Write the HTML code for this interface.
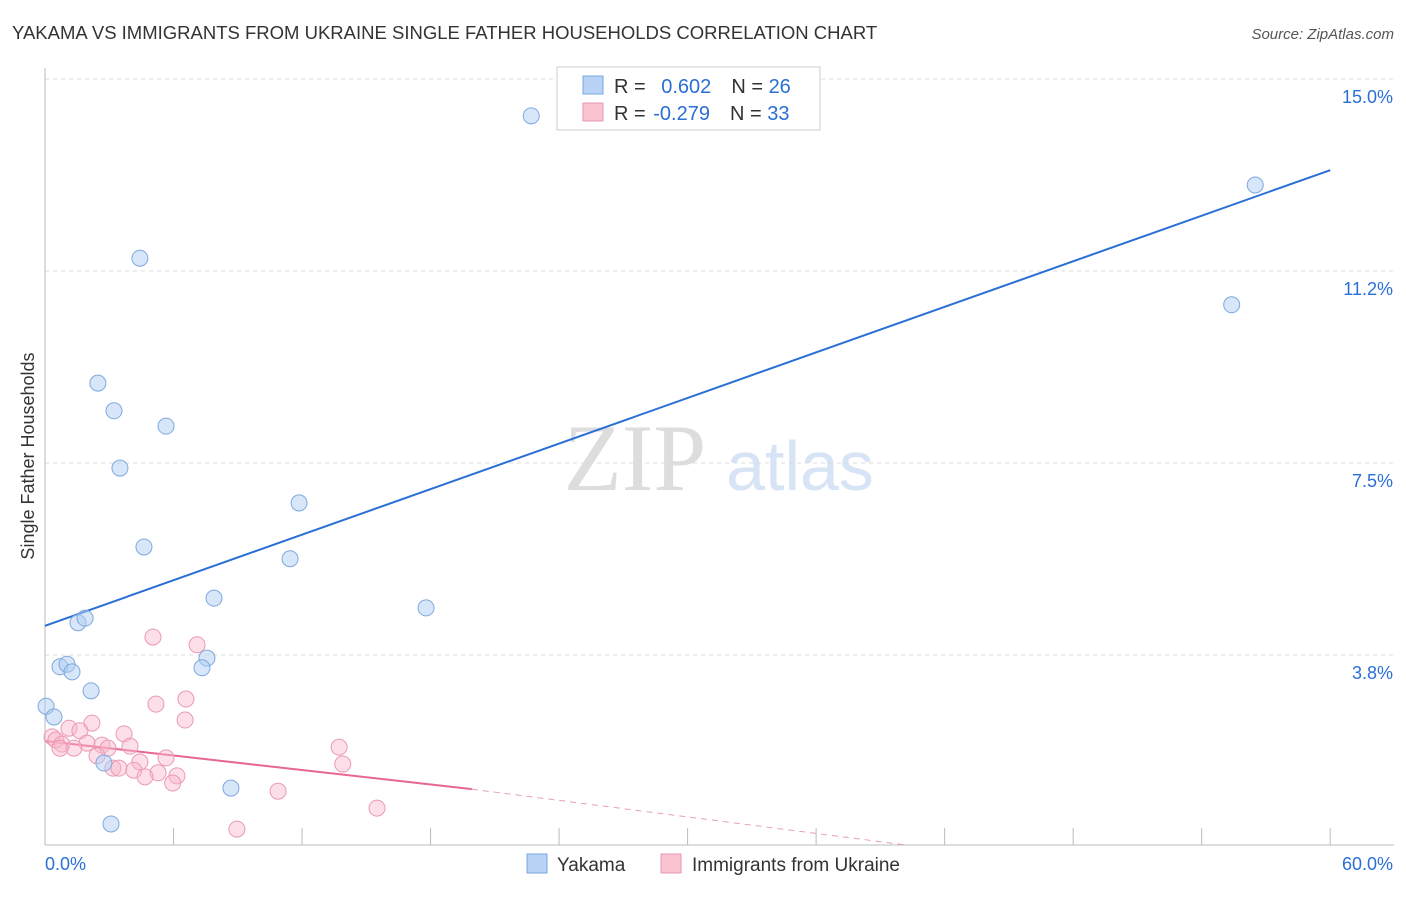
<!DOCTYPE html>
<html><head><meta charset="utf-8"><style>
body{margin:0;background:#fff;font-family:"Liberation Sans",sans-serif}
svg text{font-family:"Liberation Sans",sans-serif}
</style></head><body>
<svg width="1406" height="892" xmlns="http://www.w3.org/2000/svg">
<text x="12" y="39" font-size="18.5" fill="#333">YAKAMA VS IMMIGRANTS FROM UKRAINE SINGLE FATHER HOUSEHOLDS CORRELATION CHART</text>
<text x="1394" y="39" font-size="15" fill="#555" font-style="italic" text-anchor="end">Source: ZipAtlas.com</text>
<text x="0" y="0" transform="translate(34,456) rotate(-90)" font-size="18" fill="#333" text-anchor="middle">Single Father Households</text>
<text x="635" y="490" font-size="95" fill="#ddd" style="font-family:'Liberation Serif',serif" text-anchor="middle">ZIP</text>
<text x="800" y="490" font-size="70" fill="#d6e4f5" text-anchor="middle">atlas</text>
<g id="grid"></g><g id="axes"></g><g id="lines"></g><g id="pts"></g>
<g>
<rect x="557" y="67" width="263" height="63" fill="#fff" stroke="#ccc"/>
<rect x="583" y="76" width="20" height="18" fill="#b8d3f5" stroke="#7aa7e0"/>
<rect x="583" y="103" width="20" height="18" fill="#f9c3d2" stroke="#e897b0"/>
<text x="614" y="93" font-size="20" fill="#333">R = <tspan fill="#2a6fd6" dx="10">0.602</tspan><tspan dx="20" fill="#333">N = </tspan><tspan fill="#2a6fd6">26</tspan></text>
<text x="614" y="120" font-size="20" fill="#333">R = <tspan fill="#2a6fd6" dx="2">-0.279</tspan><tspan dx="20" fill="#333">N = </tspan><tspan fill="#2a6fd6">33</tspan></text>
</g>
<g>
<rect x="527" y="854" width="20" height="19" fill="#b8d3f5" stroke="#7aa7e0"/>
<text x="557" y="871" font-size="19" fill="#333">Yakama</text>
<rect x="661" y="854" width="20" height="19" fill="#f9c3d2" stroke="#e897b0"/>
<text x="692" y="871" font-size="19" fill="#333">Immigrants from Ukraine</text>
</g>
</svg>
<script>
const yTicks=[3.75,7.5,11.25,15];
const yTickLabels=["3.8%","7.5%","11.2%","15.0%"];
const xTicks=[0,6,12,18,24,30,36,42,48,54,60];
const blueX=[22.7,56.5,55.4,4.43,2.47,3.22,5.65,3.5,11.86,4.62,11.44,7.89,17.79,1.54,1.87,0.70,1.03,1.26,7.56,7.33,2.15,0.05,0.42,2.75,8.68,3.08];
const blueY=[14.28,12.93,10.59,11.5,9.06,8.52,8.22,7.4,6.72,5.86,5.63,4.86,4.67,4.38,4.47,3.52,3.57,3.42,3.69,3.5,3.05,2.75,2.54,1.64,1.15,0.45];
const pinkX=[5.04,7.1,6.58,5.18,6.54,2.19,1.12,1.63,3.69,0.33,0.51,0.79,1.96,2.66,3.97,2.94,1.35,0.7,13.73,2.43,5.65,4.43,3.17,3.45,4.15,5.28,6.16,4.67,5.96,13.9,10.88,15.5,8.96];
const pinkY=[4.10,3.95,2.89,2.79,2.48,2.42,2.32,2.27,2.21,2.15,2.09,2.01,2.03,1.99,1.97,1.93,1.93,1.93,1.95,1.78,1.74,1.66,1.54,1.54,1.50,1.45,1.39,1.37,1.25,1.62,1.09,0.76,0.35];
const blueLine=[4.32,13.22];
const pinkIntercept=2.07, pinkSlope=-0.0472, pinkSolidEnd=19.93, pinkDashEnd=40.2;
const X=v=>45+v*21.42, Y=v=>847-v*51.2;
const NS="http://www.w3.org/2000/svg";
function mk(parent,tag,attrs){const e=document.createElementNS(NS,tag);for(const k in attrs)e.setAttribute(k,attrs[k]);document.getElementById(parent).appendChild(e);return e;}
yTicks.forEach((t,i)=>{
 const l=mk('grid','line',{x1:45,x2:1394,y1:Y(t),y2:Y(t),stroke:'#ddd','stroke-dasharray':'4,4'});
 
 
 const tx=mk('grid','text',{x:1393,y:Y(t)+24,'font-size':18,fill:'#2a6fd6','text-anchor':'end'});
 tx.textContent=yTickLabels[i];
 
 
});
{const a=mk('axes','line',{x1:45,x2:45,y1:68,y2:845,stroke:'#bbb'});


const b=mk('axes','line',{x1:45,x2:1394,y1:845,y2:845,stroke:'#bbb'});

}
xTicks.forEach(t=>{const l=mk('axes','line',{x1:X(t),x2:X(t),y1:828,y2:845,stroke:'#bbb'});

});
{const a=mk('axes','text',{x:45,y:870,'font-size':18,fill:'#2a6fd6'});a.textContent='0.0%';


const b=mk('axes','text',{x:1393,y:870,'font-size':18,fill:'#2a6fd6','text-anchor':'end'});b.textContent='60.0%';

}
{const l=mk('lines','line',{x1:X(0),y1:Y(blueLine[0]),x2:X(60),y2:Y(blueLine[1]),stroke:'#2a6fd6','stroke-width':2});


const p=mk('lines','line',{x1:X(0),y1:Y(pinkIntercept),x2:X(pinkSolidEnd),y2:Y(pinkIntercept+pinkSlope*pinkSolidEnd),stroke:'#e8678f','stroke-width':2});


const d=mk('lines','line',{x1:X(pinkSolidEnd),y1:Y(pinkIntercept+pinkSlope*pinkSolidEnd),x2:X(pinkDashEnd),y2:845,stroke:'#e8a0b5','stroke-width':1,'stroke-dasharray':'6,5'});

}
pinkX.forEach((v,i)=>{const c=mk('pts','circle',{cx:X(v),cy:Y(pinkY[i]),r:8,fill:'rgba(249,185,205,0.45)',stroke:'#eb9ab3','stroke-width':1});

});
blueX.forEach((v,i)=>{const c=mk('pts','circle',{cx:X(v),cy:Y(blueY[i]),r:8,fill:'rgba(175,205,243,0.5)',stroke:'#7ea9de','stroke-width':1});

});
</script>
</body></html>
